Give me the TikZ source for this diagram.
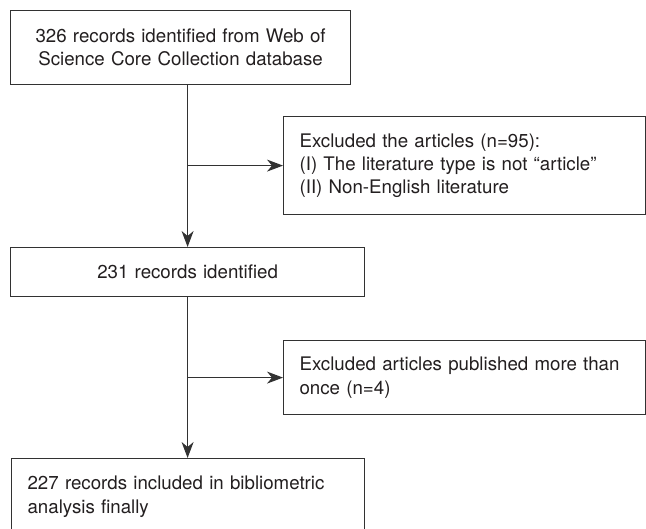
\documentclass[tikz,border=0pt]{standalone}
\usepackage{fontspec}
\setmainfont{TeX Gyre Heros}
\usepackage{xcolor}
\definecolor{ink}{RGB}{35,31,32}
\definecolor{wire}{RGB}{50,50,50}
\usetikzlibrary{arrows.meta,positioning}

\begin{document}
\begin{tikzpicture}[x=1pt,y=-1pt,
  stage/.style={rectangle,draw=wire,fill=white,line width=1.2pt,
               font=\fontsize{18.7}{23.3}\selectfont\color{ink},
               inner xsep=16pt, inner ysep=0pt, anchor=north west},
  flow/.style={draw=wire,line width=1.2pt,
               -{Stealth[length=16pt,width=12pt,inset=5pt]}},
]
  \useasboundingbox (0,0) rectangle (646,529);

  %% Main column
  \node[stage,minimum width=340pt,minimum height=74pt,text width=308pt,
        align=center] (found) at (10,10)
    {326 records identified from Web of\\Science Core Collection database};
  \node[stage,minimum width=354pt,minimum height=49pt,text width=322pt,
        align=center] (kept) at (10,247)
    {231 records identified};
  \node[stage,minimum width=353pt,minimum height=76pt,text width=321pt,
        align=left] (final) at (11,458)
    {227 records included in bibliometric\\analysis finally};

  %% Exclusion boxes
  \node[stage,minimum width=362pt,minimum height=98pt,text width=330pt,
        align=left] (typeout) at (283,116)
    {Excluded the articles (n=95):\\(I) The literature type is not “article”\\(II) Non-English literature};
  \node[stage,minimum width=362pt,minimum height=74pt,text width=330pt,
        align=left] (dupout) at (283,340)
    {Excluded articles published more than\\once (n=4)};

  %% Flow lines
  \draw[flow] (found.south -| kept.north) -- (kept.north);
  \draw[flow] (typeout.west -| kept.north) -- (typeout.west);
  \draw[flow] (kept.south) -- (final.north -| kept.south);
  \draw[flow] (dupout.west -| kept.south) -- (dupout.west);
\end{tikzpicture}
\end{document}
